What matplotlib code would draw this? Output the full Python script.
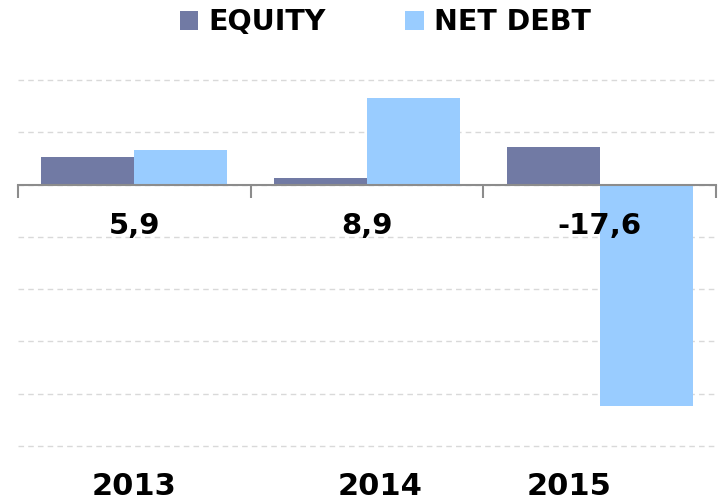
import numpy as np
import matplotlib
matplotlib.use("Agg")
from matplotlib import pyplot as plt

years = ["2013", "2014", "2015"]
equity = [2.6, 0.6, 3.6]
net_debt = [3.3, 8.3, -21.2]
totals = ["5,9", "8,9", "-17,6"]

EQUITY_COLOR = "#717AA4"
DEBT_COLOR = "#99CCFF"


def main():
    plt.rcParams['font.family'] = ['DejaVu Sans']
    fig = plt.figure(figsize=(7.21, 5.04), dpi=100)
    ax = fig.add_axes([18 / 721, 1 - 446 / 504, 698 / 721, 366 / 504])

    x = np.arange(len(years))
    w = 0.4
    ax.bar(x - w / 2, equity, w, color=EQUITY_COLOR, label="EQUITY", zorder=2)
    ax.bar(x + w / 2, net_debt, w, color=DEBT_COLOR, label="NET DEBT", zorder=2)

    ax.set_xlim(-0.5, len(years) - 0.5)
    ax.set_ylim(-25, 10)

    # dashed gridlines every 5 units
    ax.set_yticks(np.arange(-25, 11, 5))
    ax.yaxis.grid(True, color="#D9D9D9", linestyle=(0, (4, 3)), linewidth=1)
    for gl in ax.yaxis.get_gridlines():
        gl.set_clip_on(False)
    ax.tick_params(axis="y", length=0, labelleft=False)

    # category axis sitting on zero, ticks between categories
    for s in ["top", "right", "left"]:
        ax.spines[s].set_visible(False)
    ax.spines["bottom"].set_position(("data", 0))
    ax.spines["bottom"].set_color("#8C8C8C")
    ax.spines["bottom"].set_linewidth(1.5)
    ax.spines["bottom"].set_zorder(3)
    ax.set_xticks(x)
    ax.set_xticks(np.arange(len(years) + 1) - 0.5, minor=True)
    ax.tick_params(axis="x", which="major", length=0, labelbottom=False)
    ax.tick_params(axis="x", which="minor", length=9, width=1.5,
                   color="#8C8C8C", direction="out")

    # totals under the axis
    for xi, t in zip(x, totals):
        ax.text(xi, -4.0, t, ha="center", va="center", fontsize=21,
                fontweight="bold", color="black")

    # year labels (placed by hand in the original)
    year_offsets = [0.0, 0.056, -0.13]
    for xi, off, yr in zip(x, year_offsets, years):
        ax.text(xi + off, -28.9, yr, ha="center", va="center", fontsize=22,
                fontweight="bold", color="black", clip_on=False)

    fig.legend(loc="center", bbox_to_anchor=(0.534, 0.956), ncol=2,
               frameon=False, handlelength=0.65, handleheight=0.65,
               handletextpad=0.35, columnspacing=2.8,
               prop={"size": 20.5, "weight": "bold"})

    fig.savefig("out.png", dpi=100)


if __name__ == "__main__":
    main()
